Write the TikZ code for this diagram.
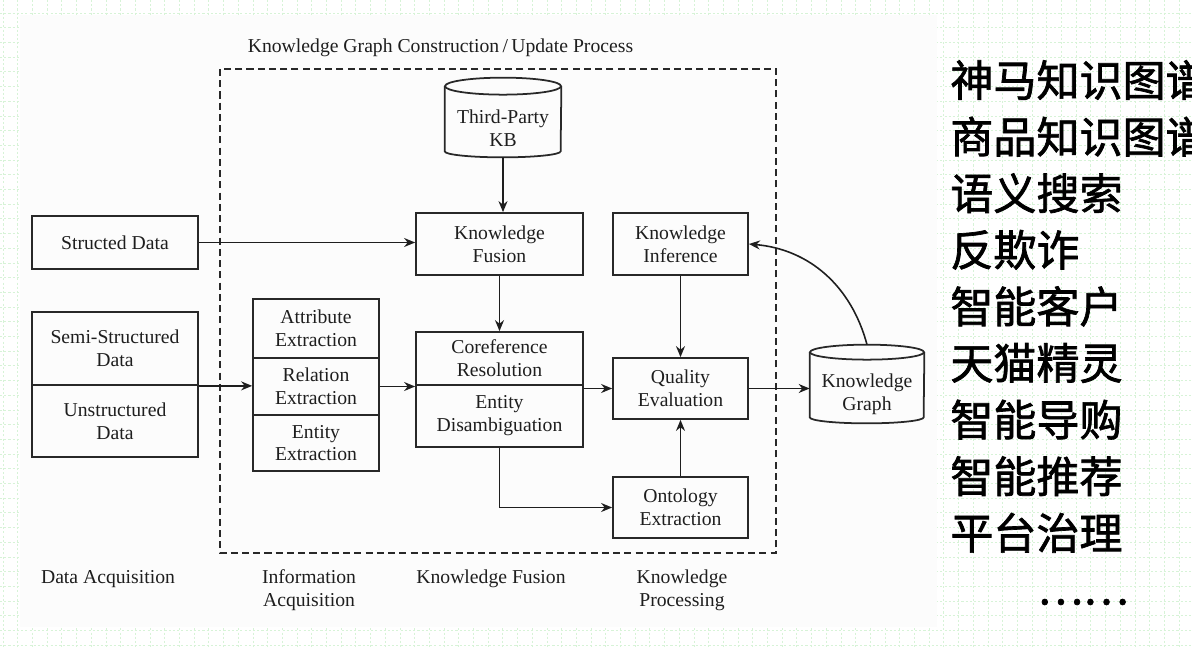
\documentclass[tikz,border=0pt]{standalone}
\usepackage{fontspec}
\setmainfont{Liberation Serif}
\newfontfamily\cjk{Noto Sans CJK SC}[FakeBold=1.6]
\usetikzlibrary{arrows.meta,calc}
\definecolor{gridgreen}{RGB}{215,243,215}
\definecolor{inkline}{RGB}{40,40,40}
\definecolor{inktext}{RGB}{30,30,30}
\tikzset{
  sz/.style 2 args={minimum width=#1*0.02cm, minimum height=#2*0.02cm},
  box/.style={draw=inkline, line width=1pt, inner sep=0pt, align=center,
    font=\fontsize{11.2}{13}\selectfont, text=inktext},
  cyl/.style={inner sep=0pt, align=center, font=\fontsize{11.2}{13}\selectfont, text=inktext},
  cylline/.style={draw=inkline, line width=1pt},
  lbl/.style={inner sep=0pt, align=center, font=\fontsize{11.2}{13}\selectfont, text=inktext},
  arr/.style={draw=inktext, line width=0.9pt, -{Stealth[length=0.22cm,width=0.18cm]}},
  dashbox/.style={draw=inkline, line width=0.9pt, dash pattern=on 4pt off 2.4pt},
  gridln/.style={draw=gridgreen, line width=0.4pt, dash pattern=on 1.2pt off 1.2pt},
  cn/.style={inner sep=0pt, font=\cjk\fontsize{24.5pt}{26pt}\selectfont, text=black}
}
\begin{document}
\begin{tikzpicture}[x=0.02cm,y=-0.02cm]
\useasboundingbox (0,0) rectangle (1192,648);
\fill[white] (0,0) rectangle (1192,648);
% background grid
\foreach \i in {0,...,81} \draw[gridln] ({3+14.7*\i},0) -- ({3+14.7*\i},648);
\foreach \j in {0,...,44} \draw[gridln] (0,{13+14.7*\j}) -- (1192,{13+14.7*\j});
% diagram panel
\fill[black!1] (20,15) rectangle (937,627);

% title and dashed frame
\node[lbl] (title) at (440.5,48) {Knowledge Graph Construction\,/\,Update Process};
\draw[dashbox] (220,69) rectangle (776,553);

% boxes
\node[box,sz={166}{53}] (sd) at (115,242.5) {Structed Data};
\node[box,sz={166}{73}] (ss) at (115,348.5) {Semi-Structured\\Data};
\node[box,sz={166}{72}] (us) at (115,421) {Unstructured\\Data};
\node[box,sz={126}{59}] (ae) at (316,328.5) {Attribute\\Extraction};
\node[box,sz={126}{57}] (re) at (316,386.5) {Relation\\Extraction};
\node[box,sz={126}{56}] (ee) at (316,443) {Entity\\Extraction};
\node[box,sz={167}{62}] (kf) at (499.5,244) {Knowledge\\Fusion};
\node[box,sz={167}{53}] (cr) at (499.5,358.5) {Coreference\\Resolution};
\node[box,sz={167}{62}] (ed) at (499.5,416) {Entity\\Disambiguation};
\node[box,sz={135}{62}] (ki) at (680.5,244) {Knowledge\\Inference};
\node[box,sz={135}{61}] (qe) at (680.5,388.5) {Quality\\Evaluation};
\node[box,sz={135}{61}] (oe) at (680.5,507.5) {Ontology\\Extraction};

% cylinders
\node[cyl,sz={116}{57}] (kb) at (503,128.5) {Third-Party\\KB};
\draw[cylline] ($(kb.north west)+(0pt,0.27cm)$) -- ($(kb.south west)+(0pt,0.12cm)$)
  arc[start angle=180,end angle=360,x radius=1.16cm,y radius=0.12cm]
  -- ($(kb.north east)+(0pt,0.27cm)$);
\draw[cylline] ($(kb.north)+(0pt,0.27cm)$) ellipse[x radius=1.16cm, y radius=0.17cm];

\node[cyl,sz={114}{57}] (kg) at (867,394.5) {Knowledge\\Graph};
\draw[cylline] ($(kg.north west)+(0pt,0.27cm)$) -- ($(kg.south west)+(0pt,0.12cm)$)
  arc[start angle=180,end angle=360,x radius=1.14cm,y radius=0.12cm]
  -- ($(kg.north east)+(0pt,0.27cm)$);
\draw[cylline] ($(kg.north)+(0pt,0.27cm)$) ellipse[x radius=1.14cm, y radius=0.15cm];
\coordinate (kgtop) at ($(kg.north)+(0pt,0.42cm)$);

% connectors
\draw[arr] (kb.south) -- (kb.south |- kf.north);
\draw[arr] (sd.east) -- (sd.east -| kf.west);
\draw[arr] (ss.south east) -- (ss.south east -| re.west);
\draw[arr] (re.east) -- (re.east -| cr.west);
\draw[arr] (kf.south) -- (cr.north);
\draw[arr] (qe.west -| cr.east) -- (qe.west);
\draw[arr] (ed.south) |- (oe.west);
\draw[arr] (ki.south) -- (qe.north);
\draw[arr] (oe.north) -- (qe.south);
\draw[arr] (qe.east) -- (qe.east -| kg.west);
\draw[arr] (kgtop) to[out=105,in=-5] (ki.east);

% stage labels
\node[lbl] (la) at (108,579) {Data Acquisition};
\node[lbl] (lb) at (309,590) {Information\\Acquisition};
\node[lbl] (lc) at (491,579) {Knowledge Fusion};
\node[lbl] (ld) at (682,590) {Knowledge\\Processing};

% applications
\foreach \t [count=\i from 0] in {神马知识图谱,商品知识图谱,语义搜索,反欺诈,智能客户,天猫精灵,智能导购,智能推荐,平台治理}
  \node[cn,anchor=west] (cn\i) at (950,{80+56.6*\i}) {\t};
\node[cn] (dots) at (1083,602) {……};
\end{tikzpicture}
\end{document}
